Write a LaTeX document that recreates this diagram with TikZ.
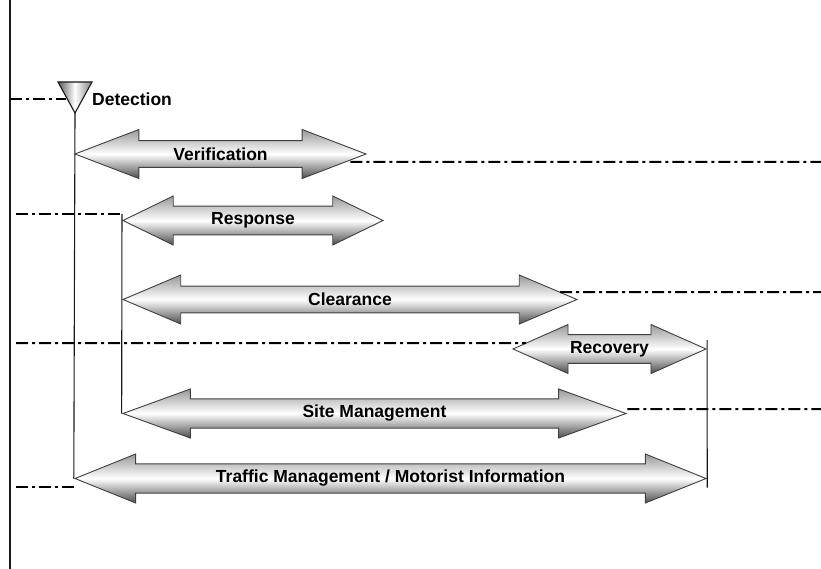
\documentclass[tikz,border=0pt]{standalone}
\usepackage{fontspec}
\setmainfont{Liberation Sans}
\usetikzlibrary{shapes.arrows,calc}
\tikzset{
  phase/.style={double arrow, draw=black!75, line width=0.9pt,
    top color=black!40, bottom color=black!70, middle color=white,
    minimum width=49pt, double arrow head extend=6.5pt, inner sep=1pt,
    font=\fontsize{17.5}{20}\selectfont\bfseries},
  dashdot/.style={line width=2pt, dash pattern=on 12pt off 4pt on 3pt off 4pt},
  rule/.style={line width=1.1pt, black!90},
}
\begin{document}
\begin{tikzpicture}[x=1pt,y=-1pt]
  \useasboundingbox (0,0) rectangle (821,569);
  \draw[rule] (10,0) -- (10,569);
  \draw[rule, left color=black!65, right color=black!50, middle color=white]
    (58,82) -- (92,82) -- (75,113) -- cycle;
  \coordinate (det) at (75,113);
  \node[anchor=west, inner sep=1pt, font=\fontsize{17.5}{20}\selectfont\bfseries]
    (detlabel) at (91,99) {Detection};
  \node[phase, minimum height=291pt, double arrow tip angle=42] (verif) at (220.5,154) {Verification};
  \node[phase, minimum height=260pt, double arrow tip angle=52] (resp) at (253,220.5) {Response};
  \node[phase, minimum height=454pt, double arrow tip angle=46] (clear) at (350,299.5) {Clearance};
  \node[phase, minimum height=193pt, double arrow tip angle=48] (recov) at (609.5,349) {Recovery};
  \node[phase, minimum height=503pt, double arrow tip angle=40] (site) at (374.5,413.5) {Site Management};
  \node[phase, minimum height=631pt, double arrow tip angle=44] (traffic) at (390.5,478.5) {Traffic Management / Motorist Information};
  \coordinate (detL) at (10,99);
  \coordinate (respL) at (16,214);
  \coordinate (recovL) at (16,343);
  \coordinate (trafficL) at (16,487);
  \coordinate (verifR) at (821,162);
  \coordinate (clearR) at (821,292);
  \coordinate (siteR) at (821,409);
  \draw[dashdot] (detL) -- (66,99);
  \draw[dashdot] ($(verif.east)+(-17,8)$) -- (verifR);
  \draw[dashdot] (respL) -- (resp.west |- respL);
  \draw[rule] (resp.west |- respL) -- (site.west);
  \draw[dashdot] ($(clear.east)+(-18,-7.5)$) -- (clearR);
  \draw[dashdot] (recovL) -- ($(recov.west)+(14,-6)$);
  \draw[dashdot] ($(site.east)+(0,-4.5)$) -- (siteR);
  \draw[dashdot] (trafficL) -- (traffic.west |- trafficL);
  \draw[rule] (det) -- (traffic.west);
  \draw[rule] ($(recov.east)+(0,-9)$) -- ($(traffic.east)+(0,9)$);
\end{tikzpicture}
\end{document}
